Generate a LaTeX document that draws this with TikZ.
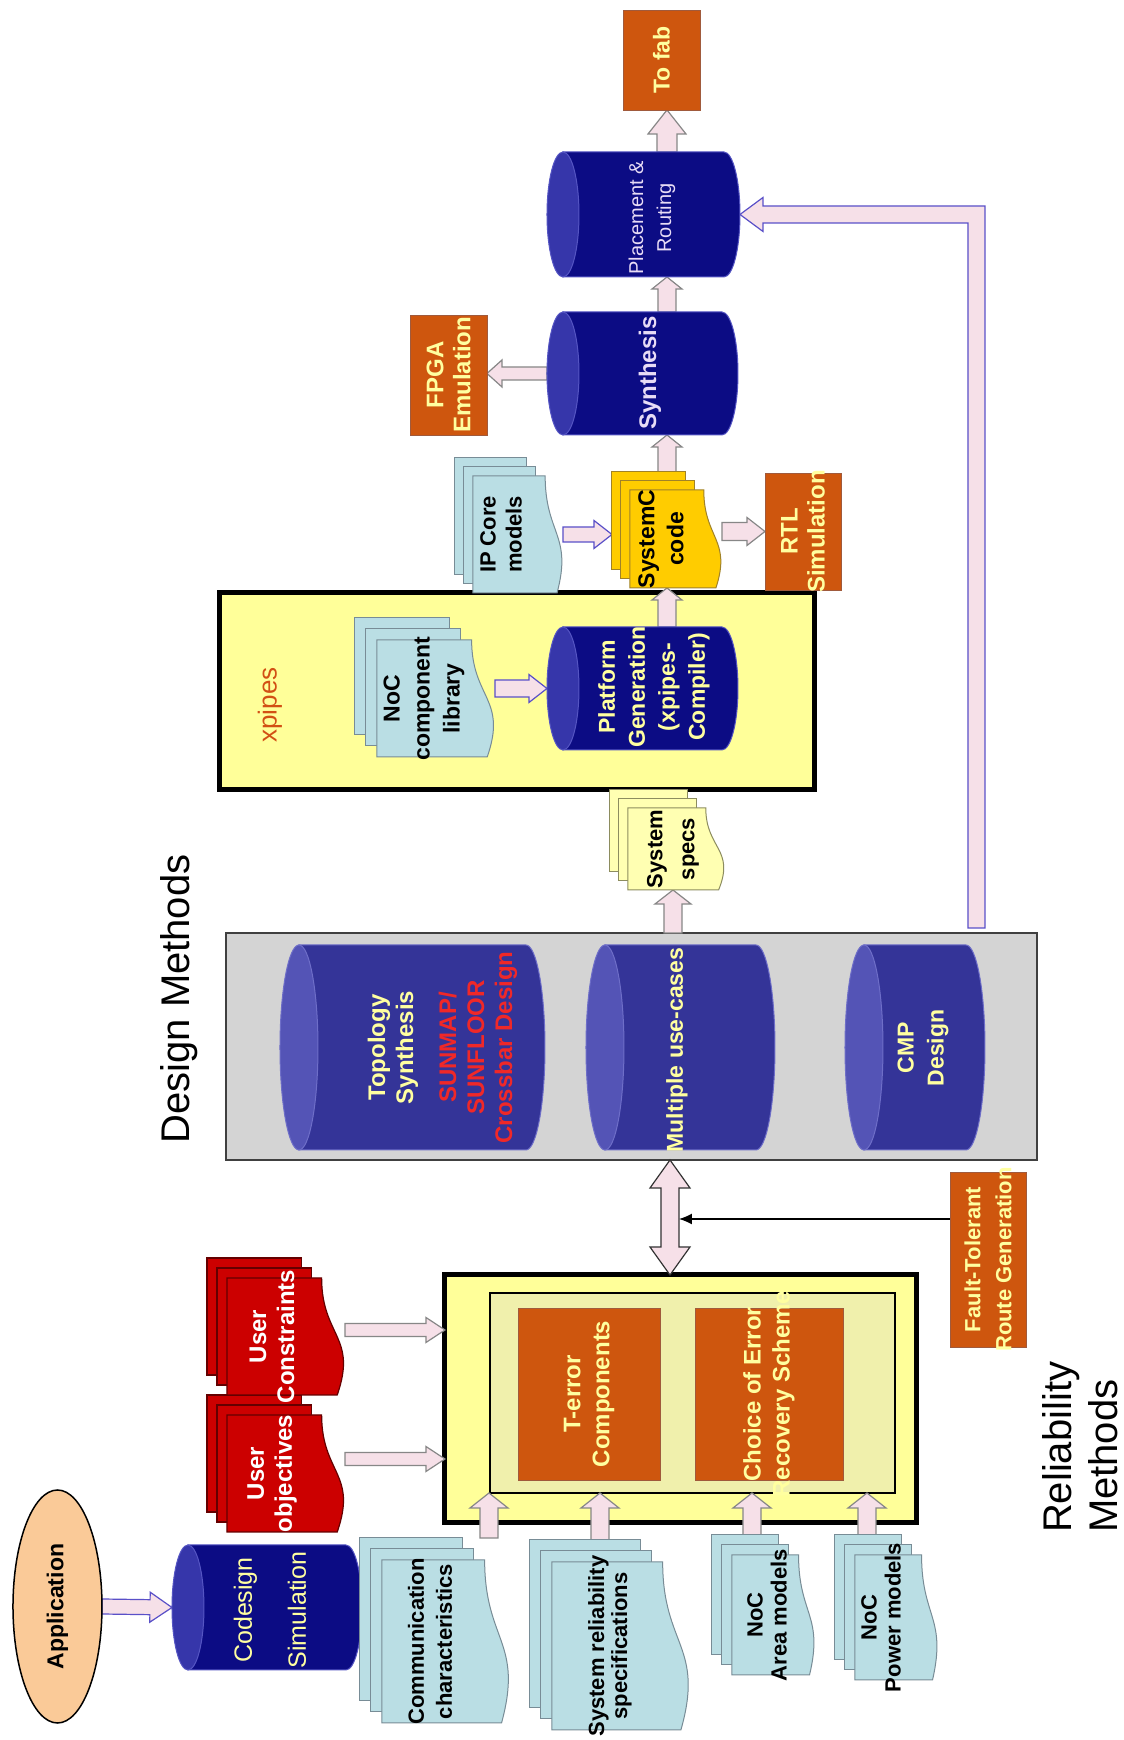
\documentclass[tikz,border=0pt]{standalone}
\usepackage{fontspec}
\setmainfont{Liberation Sans}
\usetikzlibrary{calc,arrows.meta,shapes.geometric}
\pgfdeclarelayer{frames}
\pgfdeclarelayer{arrowlayer}
\pgfsetlayers{frames,arrowlayer,main}

\definecolor{cnavy}{RGB}{12,12,132}
\definecolor{cnavycap}{RGB}{54,54,170}
\definecolor{cnavyedge}{RGB}{85,85,195}
\definecolor{dmblue}{RGB}{52,52,152}
\definecolor{dmcap}{RGB}{84,84,182}
\definecolor{dmedge}{RGB}{110,110,200}
\definecolor{orng}{RGB}{206,86,14}
\definecolor{orngedge}{RGB}{160,90,60}
\definecolor{ltyel}{RGB}{255,255,160}
\definecolor{lav}{RGB}{232,220,246}
\definecolor{docblue}{RGB}{186,222,228}
\definecolor{docedge}{RGB}{120,140,150}
\definecolor{docred}{RGB}{204,0,0}
\definecolor{rededge}{RGB}{100,0,0}
\definecolor{scgold}{RGB}{255,204,0}
\definecolor{scedge}{RGB}{160,130,40}
\definecolor{specyel}{RGB}{255,255,178}
\definecolor{specedge}{RGB}{140,140,95}
\definecolor{boxyel}{RGB}{255,255,153}
\definecolor{inneryel}{RGB}{240,240,172}
\definecolor{greybox}{RGB}{212,212,212}
\definecolor{arrfill}{RGB}{246,224,232}
\definecolor{arrgrey}{RGB}{135,135,135}
\definecolor{arrblue}{RGB}{90,80,200}
\definecolor{peach}{RGB}{250,202,152}
\definecolor{xpred}{RGB}{210,80,20}
\definecolor{tred}{RGB}{240,40,40}

\tikzset{
  every node/.style={inner sep=0pt, outer sep=0pt},
  txt/.style 2 args={font=\bfseries\fontsize{#1}{#2}\selectfont, align=center},
  rtxt/.style 2 args={font=\fontsize{#1}{#2}\selectfont, align=center},
  otext/.style={txt={24}{29}, text=ltyel},
  greyframe/.style={fill=greybox, draw=black!75, line width=1.2pt},
  yelframe/.style={fill=boxyel, draw=black, line width=5pt},
  innerframe/.style={fill=inneryel, draw=black, line width=1.3pt},
  obox/.style={fill=orng, draw=orngedge, line width=0.8pt},
  navy body/.style={fill=cnavy, draw=cnavyedge, line width=1pt},
  navy cap/.style={fill=cnavycap, draw=cnavyedge, line width=1pt},
  dm body/.style={fill=dmblue, draw=dmedge, line width=1pt},
  dm cap/.style={fill=dmcap, draw=dmedge, line width=1pt},
  bluedoc/.style={fill=docblue, draw=docedge, line width=1pt},
  reddoc/.style={fill=docred, draw=rededge, line width=1.2pt},
  golddoc/.style={fill=scgold, draw=scedge, line width=1pt},
  specdoc/.style={fill=specyel, draw=specedge, line width=1pt},
  blockarrow/.style={fill=arrfill, draw=arrgrey, line width=1.2pt, line join=miter},
  bluearrow/.style={draw=arrblue},
  darkarrow/.style={draw=black!80},
}

% cylinder: name, centre, width, height, cap half-height, colour set
\newcommand\cylshape[6]{%
  \node[minimum width=#3pt, minimum height=#4pt] (#1) at #2 {};
  \filldraw[#6 body] ($(#1.north west)+(0,-#5)$) -- ($(#1.south west)+(0,#5)$)
    arc[start angle=180, end angle=360, x radius=#3/2, y radius=#5]
    -- ($(#1.north east)+(0,-#5)$) -- cycle;
  \filldraw[#6 cap] ($(#1.north)+(0,-#5)$) ellipse[x radius=#3/2, y radius=#5];
}

% stacked documents: name, centre of front page, width, height, page offset, style
\newcommand\mdoc[6]{%
  \node[minimum width=#3pt, minimum height=#4pt] (#1) at #2 {};
  \filldraw[#6] ($(#1.north west)+(2*#5,2*#5)$) rectangle ($(#1.north east)+(2*#5,2*#5-0.8*#4)$);
  \filldraw[#6] ($(#1.north west)+(#5,#5)$) rectangle ($(#1.north east)+(#5,#5-0.8*#4)$);
  \filldraw[#6] (#1.north west) -- (#1.north east) -- ($(#1.north east)+(0,-0.802*#4)$)
    .. controls ($(#1.north)+(0,-0.802*#4)$) and ($(#1.north)+(0,-1.1075*#4)$)
    .. ($(#1.north west)+(0,-0.934*#4)$) -- cycle;
  \coordinate (#1-r) at ($(#1.east)+(2*#5,0)$);
  \coordinate (#1-t) at ($(#1.north)+(0,2*#5)$);
}

% block arrow: [style] from, to, shaft half width, head half width, head length
\newcommand\blockarr[6][]{%
  \coordinate (ba) at #2; \coordinate (bb) at #3;
  \coordinate (bh) at ($(bb)!#6pt!(ba)$);
  \filldraw[blockarrow,#1] ($(ba)!#4pt!90:(bb)$) -- ($(bh)!#4pt!90:(bb)$) -- ($(bh)!#5pt!90:(bb)$) -- (bb)
    -- ($(bh)!#5pt!-90:(bb)$) -- ($(bh)!#4pt!-90:(bb)$) -- ($(ba)!#4pt!-90:(bb)$) -- cycle;
}

% two-headed block arrow
\newcommand\dblarr[6][]{%
  \coordinate (ba) at #2; \coordinate (bb) at #3;
  \coordinate (bh1) at ($(ba)!#6pt!(bb)$);
  \coordinate (bh2) at ($(bb)!#6pt!(ba)$);
  \filldraw[blockarrow,#1] (ba) -- ($(bh1)!#5pt!90:(bb)$) -- ($(bh1)!#4pt!90:(bb)$)
    -- ($(bh2)!#4pt!90:(bb)$) -- ($(bh2)!#5pt!90:(bb)$) -- (bb)
    -- ($(bh2)!#5pt!-90:(bb)$) -- ($(bh2)!#4pt!-90:(bb)$)
    -- ($(bh1)!#4pt!-90:(bb)$) -- ($(bh1)!#5pt!-90:(bb)$) -- cycle;
}

\begin{document}
\begin{tikzpicture}[x=1pt, y=1pt]
\begin{scope}[rotate=90, transform shape]
\path[use as bounding box] (0,0) rectangle (1740,1124);

% levels used by the connectors
\coordinate (lvMain) at (0,457);
\coordinate (lvSpec) at (0,451);
\coordinate (lvDbl) at (0,454);
\coordinate (lvDblLow) at (0,445);
\coordinate (lvComm) at (0,635);
\coordinate (lvSys) at (0,524);
\coordinate (lvArea) at (0,372);
\coordinate (lvPow) at (0,257);
\coordinate (lvObj) at (281,0);
\coordinate (lvCon) at (410,0);
\coordinate (lvFT) at (521,0);
\coordinate (lvFB) at (0,147.5);

% containers
\begin{pgfonlayer}{frames}
\fill[white] (0,0) rectangle (1740,1124);
\node[greyframe, minimum width=227pt, minimum height=811pt] (dm) at (693.5,492.5) {};
\node[yelframe, minimum width=248pt, minimum height=472pt] (rel) at (341,443) {};
\node[innerframe, minimum width=200pt, minimum height=405pt] (inner) at (347,431.5) {};
\node[yelframe, minimum width=197pt, minimum height=595pt] (xp) at (1048.5,606.5) {};
\end{pgfonlayer}

% process boxes
\node[obox, minimum width=172pt, minimum height=142pt,
  label={[otext]center:{T-error\\Components}}] (terr) at (346,535) {};
\node[obox, minimum width=172pt, minimum height=148pt,
  label={[otext]center:{Choice of Error\\Recovery Scheme}}] (choice) at (346,355) {};
\node[obox, minimum width=175pt, minimum height=76pt,
  label={[txt={22}{31}, text=ltyel]center:{Fault-Tolerant\\Route Generation}}] (ft) at (480.5,136) {};
\node[obox, minimum width=117pt, minimum height=76pt,
  label={[txt={24}{27}, text=ltyel]center:{RTL\\Simulation}}] (rtl) at (1208.5,321) {};
\node[obox, minimum width=120pt, minimum height=77pt,
  label={[txt={24}{27}, text=ltyel]center:{FPGA\\Emulation}}] (fpga) at (1365,675.5) {};
\node[obox, minimum width=100pt, minimum height=77pt,
  label={[txt={23}{27}, text=ltyel]center:{To fab}}] (fab) at (1680,462.5) {};

% tools
\cylshape{cod}{(132.5,857)}{125}{190}{16}{navy}
\cylshape{syn}{(1366.5,481.5)}{123}{191}{16}{navy}
\cylshape{pr}{(1525.5,480.5)}{125}{193}{16}{navy}
\cylshape{plat}{(1051.5,481.5)}{123}{191}{16}{navy}
\cylshape{topo}{(692.5,711.5)}{205}{265}{19}{dm}
\cylshape{multi}{(692.5,443.5)}{205}{189}{19}{dm}
\cylshape{cmp}{(692.5,209)}{205}{140}{19}{dm}

% documents
\mdoc{comm}{(98.5,678)}{163}{128}{11}{bluedoc}
\mdoc{sysrel}{(94,503)}{168}{138}{11}{bluedoc}
\mdoc{area}{(125,350.5)}{120}{83}{10}{bluedoc}
\mdoc{pow}{(122.5,227.5)}{125}{83}{10}{bluedoc}
\mdoc{obj}{(266.5,838)}{117}{118}{10}{reddoc}
\mdoc{con}{(403.5,838)}{117}{118}{10}{reddoc}
\mdoc{ip}{(1205.5,606)}{117}{90}{9}{bluedoc}
\mdoc{sc}{(1201,448)}{98}{92}{9}{golddoc}
\mdoc{lib}{(1041.5,688)}{117}{118}{11}{bluedoc}
\mdoc{spec}{(891,447.5)}{82}{97}{9}{specdoc}

\node[ellipse, fill=peach, draw=black, line width=1.5pt, minimum width=233pt,
  minimum height=89pt, txt={23}{27}] (app) at (133.5,1066.5) {Application};

% connectors
\begin{pgfonlayer}{arrowlayer}
\blockarr[bluearrow]{(app.south)}{(cod.north)}{7.5}{15}{22}
\blockarr{(comm-r |- lvComm)}{(inner.west |- lvComm)}{9}{19}{15}
\blockarr{(sysrel-r |- lvSys)}{(inner.west |- lvSys)}{9}{19}{15}
\blockarr{(area-r |- lvArea)}{(inner.west |- lvArea)}{9}{19}{15}
\blockarr{(pow-r |- lvPow)}{(inner.west |- lvPow)}{9}{19}{15}
\blockarr{(lvObj |- obj.south)}{(lvObj |- rel.north)}{6.5}{12.5}{19}
\blockarr{(lvCon |- con.south)}{(lvCon |- rel.north)}{6.5}{12.5}{19}
\dblarr[darkarrow]{(rel.east |- lvDbl)}{(dm.west |- lvDbl)}{9}{20}{28}
\draw[line width=1.3pt, -{Latex[length=13pt, width=11pt]}] (lvFT |- ft.north) -- (lvFT |- lvDblLow);
\blockarr{(dm.east |- lvSpec)}{(spec.west |- lvSpec)}{9}{18}{14}
\blockarr[bluearrow]{(plat.north |- lib.south)}{(plat.north)}{8.5}{14}{18}
\blockarr{(plat.east |- lvMain)}{(sc.west |- lvMain)}{9}{15}{12}
\blockarr[bluearrow]{(ip.south)}{(ip.south |- sc-t)}{7.5}{14}{18}
\blockarr{(rtl.north |- sc.south)}{(rtl.north)}{9}{14}{18}
\blockarr{(sc-r |- lvMain)}{(syn.west |- lvMain)}{9}{15}{12}
\blockarr{(syn.north)}{(syn.north |- fpga.south)}{6.5}{13.5}{15}
\blockarr{(syn.east |- lvMain)}{(pr.west |- lvMain)}{9}{15}{12}
\blockarr{(pr.east |- lvMain)}{(fab.west |- lvMain)}{10}{19}{24}
% feedback from the design methods to placement and routing
\filldraw[blockarrow, bluearrow]
  ($(dm.east |- lvFB)+(5,-8.5)$) -- ($(pr.south |- lvFB)+(8.5,-8.5)$)
  -- ($(pr.south)+(8.5,-23)$) -- ($(pr.south)+(17,-23)$) -- (pr.south)
  -- ($(pr.south)+(-17,-23)$) -- ($(pr.south)+(-8.5,-23)$)
  -- ($(pr.south |- lvFB)+(-8.5,8.5)$) -- ($(dm.east |- lvFB)+(5,8.5)$) -- cycle;
\end{pgfonlayer}

% labels
\node[rtxt={25}{54}, text=ltyel] (codlbl) at (130,854) {Codesign\\Simulation};
\node[txt={24}{24}, text=lav] (synlbl) at (1367,474) {Synthesis};
\node[rtxt={20}{28}, text=lav] (prlbl) at (1522,472) {Placement \&\\Routing};
\node[txt={23}{30}, text=ltyel] (platlbl) at (1053,470) {Platform\\Generation\\(xpipes-\\Compiler)};
\node[txt={24}{28}, text=ltyel] (topolbl) at (692.5,731) {Topology\\Synthesis};
\node[txt={24}{28}, text=tred] (sunlbl) at (692.5,646) {SUNMAP/\\SUNFLOOR\\Crossbar Design};
\node[txt={23}{23}, text=ltyel] (multilbl) at (690,447) {Multiple use-cases};
\node[txt={23}{30}, text=ltyel] (cmplbl) at (692,201) {CMP\\Design};

\node[txt={22}{28}] (commlbl) at (98.5,694) {Communication\\characteristics};
\node[txt={22}{23}] (sysrellbl) at (94,514) {System reliability\\specifications};
\node[txt={22}{24}] (arealbl) at (125,357) {NoC\\Area models};
\node[txt={22}{24}] (powlbl) at (122.5,243) {NoC\\Power models};
\node[txt={24}{28}, text=white] (objlbl) at (266.5,852) {User\\objectives};
\node[txt={24}{28}, text=white] (conlbl) at (403.5,852) {User\\Constraints};
\node[txt={22}{26}] (iplbl) at (1205.5,623) {IP Core\\models};
\node[txt={23}{29}] (sclbl) at (1201,463) {SystemC\\code};
\node[txt={23}{30}] (liblbl) at (1041.5,700) {NoC\\component\\library};
\node[txt={22}{32}] (speclbl) at (891,451) {System\\specs};

\node[rtxt={40}{46}] (dmlbl) at (741,945) {Design Methods};
\node[rtxt={40}{46}, anchor=west, align=left] (rmlbl) at (207,44) {Reliability\\Methods};
\node[rtxt={26}{30}, text=xpred] (xplbl) at (1035,854) {xpipes};
\end{scope}
\end{tikzpicture}
\end{document}
